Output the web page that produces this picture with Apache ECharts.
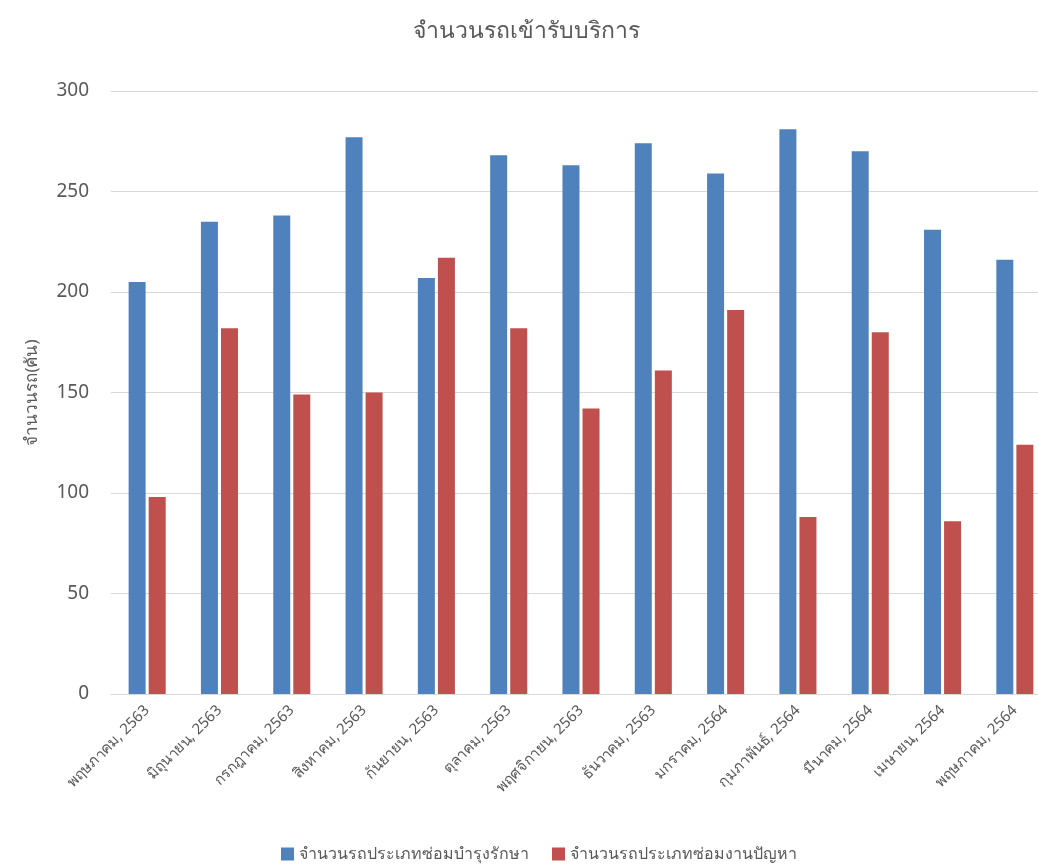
<!DOCTYPE html>
<html>
<head>
<meta charset="utf-8">
<script src="https://cdn.jsdelivr.net/npm/echarts@6/dist/echarts.min.js"></script>
<style>
  html, body { margin: 0; padding: 0; background: #fff; }
  #chart { width: 1038px; height: 868px; }
</style>
</head>
<body>
<div id="chart"></div>
<script>
// Monthly service intake, May 2563 – May 2564
const months = [
  'พฤษภาคม, 2563', 'มิถุนายน, 2563', 'กรกฎาคม, 2563', 'สิงหาคม, 2563',
  'กันยายน, 2563', 'ตุลาคม, 2563', 'พฤศจิกายน, 2563', 'ธันวาคม, 2563',
  'มกราคม, 2564', 'กุมภาพันธ์, 2564', 'มีนาคม, 2564', 'เมษายน, 2564',
  'พฤษภาคม, 2564'
];
const maintenanceCars = [205, 235, 238, 277, 207, 268, 263, 274, 259, 281, 270, 231, 216];
const repairCars = [98, 182, 149, 150, 217, 182, 142, 161, 191, 88, 180, 86, 124];
const seriesNames = ['จำนวนรถประเภทซ่อมบำรุงรักษา', 'จำนวนรถประเภทซ่อมงานปัญหา'];

const FONT = '"Noto Sans", "DejaVu Sans", sans-serif';
const TEXT = '#595959';

const chart = echarts.init(document.getElementById('chart'), null, { renderer: 'canvas' });
chart.setOption({
  animation: false,
  backgroundColor: '#fff',
  title: {
    text: 'จำนวนรถเข้ารับบริการ',
    left: 408,
    top: 15,
    textStyle: { fontFamily: FONT, fontSize: 23, fontWeight: 'normal', color: TEXT }
  },
  legend: {
    data: seriesNames,
    bottom: 1,
    left: 276,
    icon: 'rect',
    itemWidth: 13,
    itemHeight: 13,
    itemGap: 23,
    textStyle: { fontFamily: FONT, fontSize: 16, color: TEXT }
  },
  // the plot area runs a little past the right edge of the canvas
  grid: { left: 111, top: 91, width: 940, height: 603, outerBoundsMode: 'none', containLabel: false },
  xAxis: {
    type: 'category',
    data: months,
    axisLine: { lineStyle: { color: '#d9d9d9' } },
    axisTick: { show: false },
    axisLabel: {
      rotate: 45,
      interval: 0,
      margin: 14,
      fontFamily: FONT,
      fontSize: 15,
      color: TEXT
    }
  },
  yAxis: {
    type: 'value',
    min: 0,
    max: 300,
    interval: 50,
    name: 'จำนวนรถ(คัน)',
    nameLocation: 'middle',
    nameGap: 70,
    nameRotate: 90,
    nameTextStyle: { fontFamily: FONT, fontSize: 17, color: TEXT },
    axisLine: { show: false },
    axisTick: { show: false },
    splitLine: { lineStyle: { color: '#d9d9d9', width: 1 } },
    axisLabel: { fontFamily: FONT, fontSize: 19, color: TEXT, margin: 22 }
  },
  series: [
    {
      name: seriesNames[0],
      type: 'bar',
      data: maintenanceCars,
      barWidth: 17,
      barGap: '18%',
      itemStyle: { color: '#4F81BD' }
    },
    {
      name: seriesNames[1],
      type: 'bar',
      data: repairCars,
      barWidth: 17,
      barGap: '18%',
      itemStyle: { color: '#C0504D' }
    }
  ]
});
</script>
</body>
</html>
